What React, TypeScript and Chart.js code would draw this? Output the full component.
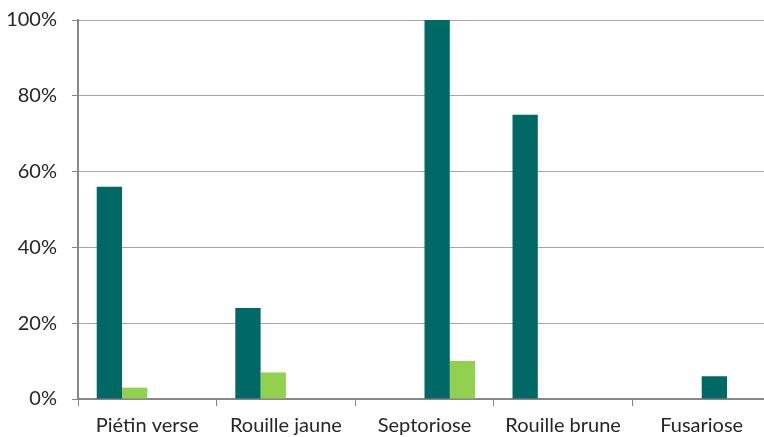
import React, { useEffect, useRef } from "react";
import { Chart, registerables } from "chart.js";

Chart.register(...registerables);

const categories = ["Piétin verse", "Rouille jaune", "Septoriose", "Rouille brune", "Fusariose"];
const seriesA = [56, 24, null, 75, null];
const seriesB = [3, 7, null, 0, null];
const seriesC = [null, null, 100, null, 6];
const seriesD = [null, null, 10, null, 0];
const yTicks = [0, 20, 40, 60, 80, 100];

const DARK = "#006865";
const LIGHT = "#92D050";

export default function App() {
  const ref = useRef<HTMLCanvasElement | null>(null);
  useEffect(() => {
    if (!ref.current) return;
    const font = { family: "Lato, 'Open Sans', sans-serif", size: 20, lineHeight: 1 };
    const chart = new Chart(ref.current, {
      type: "bar",
      data: {
        labels: categories,
        datasets: [
          { label: "A", data: seriesA, backgroundColor: DARK },
          { label: "B", data: seriesB, backgroundColor: LIGHT },
          { label: "C", data: seriesC, backgroundColor: DARK },
          { label: "D", data: seriesD, backgroundColor: LIGHT },
        ],
      },
      options: {
        responsive: false,
        animation: false,
        layout: { padding: { top: 20, left: 0, right: 9, bottom: 0 } },
        datasets: { bar: { categoryPercentage: 0.73, barPercentage: 1 } },
        plugins: { legend: { display: false }, tooltip: { enabled: false } },
        scales: {
          x: {
            afterFit: (s: any) => {
              s.height = 38;
              s.paddingLeft = 0;
              s.paddingRight = 0;
            },
            grid: { display: true, drawOnChartArea: false, offset: true, tickLength: 7, color: "#868686", lineWidth: 1 },
            border: { color: "#868686", width: 2 },
            ticks: { color: "#262626", font, padding: 10 },
          },
          y: {
            min: 0,
            max: 100,
            afterBuildTicks: (s: any) => {
              s.ticks = yTicks.map((v) => ({ value: v }));
            },
            afterFit: (s: any) => {
              s.width = 78;
              s.paddingTop = 0;
              s.paddingBottom = 0;
            },
            grid: { color: "#A6A6A6", lineWidth: 1, tickLength: 6, tickColor: "#868686" },
            border: { color: "#868686", width: 2 },
            ticks: { color: "#262626", font, padding: 15, callback: (v: any) => v + "%" },
          },
        },
      },
    });
    return () => chart.destroy();
  }, []);
  return (
    <div style={{ position: "fixed", left: 0, top: 0, width: 764, height: 437, overflow: "hidden", background: "#fff" }}>
      <canvas ref={ref} width={780} height={437} style={{ display: "block" }} />
    </div>
  );
}
